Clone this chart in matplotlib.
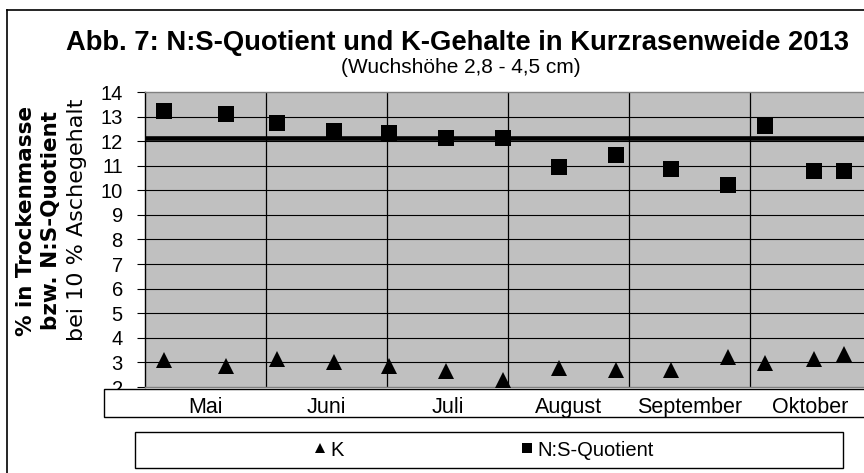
import numpy as np
import matplotlib
matplotlib.use('Agg')
import matplotlib.pyplot as plt
from matplotlib.patches import Rectangle
from matplotlib.lines import Line2D

plt.rcParams['font.family'] = ['Liberation Sans', 'DejaVu Sans']
WIDE = ['DejaVu Sans']

# sampling positions in month units (0 = start of Mai)
x_pos = [0.16, 0.67, 1.09, 1.56, 2.02, 2.49, 2.96, 3.42, 3.89, 4.35, 4.82, 5.12, 5.53, 5.78]
k_vals = [3.08, 2.86, 3.14, 3.00, 2.86, 2.67, 2.30, 2.78, 2.70, 2.70, 3.21, 2.99, 3.14, 3.35]
ns_vals = [13.23, 13.10, 12.74, 12.41, 12.33, 12.11, 12.11, 10.93, 11.43, 10.87, 10.23, 12.61, 10.80, 10.80]
ns_limit = 12.14
months = ['Mai', 'Juni', 'Juli', 'August', 'September', 'Oktober']

W, H = 864, 473
fig = plt.figure(figsize=(W/100, H/100), dpi=100)

ax = fig.add_axes([145/W, (H-387)/H, 726/W, 295/H])
ax.set_facecolor('#c0c0c0')
ax.set_xlim(0, 6)
ax.set_ylim(2, 14)
ax.set_yticks(range(2, 15))
ax.set_xticks([])
for s in ['top', 'right', 'bottom']:
    ax.spines[s].set_color('#808080')
    ax.spines[s].set_linewidth(1)
ax.spines['left'].set_color('black')
ax.spines['left'].set_linewidth(1)
ax.tick_params(axis='y', direction='out', length=6, width=0.8, pad=10, labelsize=14.5)

for y in range(3, 14):
    ax.axhline(y, color='black', lw=0.8, zorder=1)
for m in range(1, 6):
    ax.axvline(m, color='black', lw=0.9, zorder=1)
ax.axhline(ns_limit, color='black', lw=3.3, zorder=2)

ax.plot(x_pos, k_vals, ls='none', marker='^', ms=11, mfc='black', mec='black', mew=0, zorder=3, label='K')
ax.plot(x_pos, ns_vals, ls='none', marker='s', ms=11, mfc='black', mec='black', mew=0, zorder=3, label='N:S-Quotient')

# y axis label (three lines)
fig.text(26/W, 1-221/H, '% in Trockenmasse', rotation=90, ha='center', va='center', fontsize=15.5,
         fontweight='bold', family=WIDE)
fig.text(51/W, 1-221/H, 'bzw. N:S-Quotient', rotation=90, ha='center', va='center', fontsize=15.5,
         fontweight='bold', family=WIDE)
fig.text(77/W, 1-220/H, 'bei 10 % Aschegehalt', rotation=90, ha='center', va='center', fontsize=16,
         family=WIDE)

# title
fig.text(457/W, 1-43/H, 'Abb. 7: N:S-Quotient und K-Gehalte in Kurzrasenweide 2013', ha='center', va='center',
         fontsize=19.7, fontweight='bold')
fig.text(461/W, 1-67/H, '(Wuchshöhe 2,8 - 4,5 cm)', ha='center', va='center', fontsize=15)

# category box below the plot
fig.patches.append(Rectangle((104/W, (H-417)/H), (W-104+20)/W, 28/H, transform=fig.transFigure,
                             facecolor='white', edgecolor='black', lw=1, zorder=5))
for i, name in enumerate(months):
    xf = (145 + 121*(i+0.5))/W
    fig.text(xf, 1-407/H, name, ha='center', va='center', fontsize=15.5, zorder=6)

# legend
fig.patches.append(Rectangle((135/W, (H-468)/H), 708/W, 36/H, transform=fig.transFigure,
                             facecolor='white', edgecolor='black', lw=1, zorder=5))
h1 = Line2D([], [], ls='none', marker='^', ms=7.5, color='black', mew=0)
h2 = Line2D([], [], ls='none', marker='s', ms=7.5, color='black', mew=0)
leg = fig.legend([h1, h2], ['K', 'N:S-Quotient'], loc='center', bbox_to_anchor=(484/W, 1-450/H),
                 ncol=2, frameon=False, handlelength=0.6, handletextpad=0.2, columnspacing=8.8,
                 prop={'size': 14.5})
leg.set_zorder(7)

# outer border (right and bottom edges lie outside the picture)
fig.add_artist(Line2D([7/W, 7/W], [0, 1-10/H], color='black', lw=1.2, transform=fig.transFigure))
fig.add_artist(Line2D([7/W, 1], [1-10/H, 1-10/H], color='black', lw=1.2, transform=fig.transFigure))

fig.savefig('out.png', dpi=100)
